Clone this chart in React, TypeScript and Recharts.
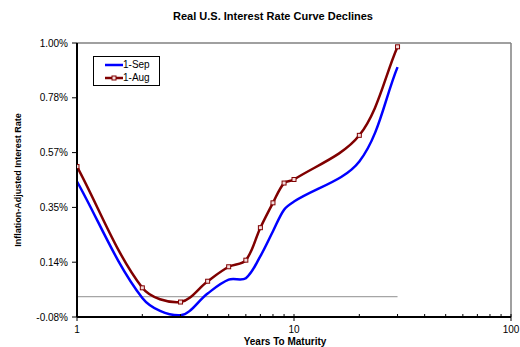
import {
    LineChart,
    Line,
    XAxis,
    YAxis,
    Legend,
    Label,
    ReferenceLine,
} from "recharts";

// years to maturity, log axis
const maturities = [1, 2, 3, 4, 5, 6, 7, 8, 9, 10, 20, 30];
// real yields in percent
const sep1 = [0.454, -0.005, -0.073, 0.013, 0.067, 0.073, 0.16, 0.258, 0.343, 0.375, 0.533, 0.905];
const aug1 = [0.513, 0.035, -0.021, 0.061, 0.118, 0.144, 0.272, 0.37, 0.448, 0.462, 0.636, 0.985];

const yTicks = [-0.08, 0.136, 0.352, 0.568, 0.784, 1.0];
const xTicks = [1, 2, 3, 4, 5, 6, 7, 8, 9, 10, 20, 30, 40, 50, 60, 70, 80, 90, 100];
const xMajor = [1, 10, 100];

const FONT = "'Liberation Sans', Arial, sans-serif";
const SEP_COLOR = "#0000ff";
const AUG_COLOR = "#800000";

const rows = maturities.map((m, i) => ({ m, sep: sep1[i], aug: aug1[i] }));

// smoothed line: bezier through every point, tangents weighted by chord length
const smoothCurve = (context: any) => {
    let xs: number[] = [];
    let ys: number[] = [];
    return {
        areaStart() {},
        areaEnd() {},
        lineStart() {
            xs = [];
            ys = [];
        },
        point(x: number, y: number) {
            xs.push(+x);
            ys.push(+y);
        },
        lineEnd() {
            const n = xs.length;
            if (!n) return;
            const dist = (i: number, j: number) => Math.hypot(xs[j] - xs[i], ys[j] - ys[i]);
            context.moveTo(xs[0], ys[0]);
            for (let i = 0; i < n - 1; i++) {
                const a = Math.max(i - 1, 0);
                const b = Math.min(i + 2, n - 1);
                const dPrev = dist(a, i);
                const dCur = dist(i, i + 1);
                const dNext = dist(i + 1, b);
                const f1 = dCur / (dPrev + dCur || 1) / 3;
                const f2 = dCur / (dCur + dNext || 1) / 3;
                context.bezierCurveTo(
                    xs[i] + (xs[i + 1] - xs[a]) * f1,
                    ys[i] + (ys[i + 1] - ys[a]) * f1,
                    xs[i + 1] - (xs[b] - xs[i]) * f2,
                    ys[i + 1] - (ys[b] - ys[i]) * f2,
                    xs[i + 1],
                    ys[i + 1]
                );
            }
        },
    };
};

const XTick = (props: any) => {
    const { x, y, payload } = props;
    const major = xMajor.includes(payload.value);
    return (
        <g>
            <line x1={x} x2={x} y1={y - 3} y2={major ? y + 4 : y} stroke="#000" strokeWidth={1} />
            {major && (
                <text x={x} y={y + 16} textAnchor="middle" fontSize={10} fontFamily={FONT} fill="#000">
                    {payload.value}
                </text>
            )}
        </g>
    );
};

const AugDot = (props: any) => {
    const { cx, cy } = props;
    if (cx == null || cy == null) return null;
    return <rect x={cx - 2} y={cy - 2} width={4} height={4} fill="#f4dcdc" stroke={AUG_COLOR} strokeWidth={1} />;
};

const LegendBox = () => (
    <div
        style={{
            border: "1px solid #000",
            background: "#fff",
            width: 65,
            padding: "1px 0 1px 0",
            fontFamily: FONT,
            fontSize: 10,
            lineHeight: "13px",
        }}
    >
        {[
            { name: "1-Sep", color: SEP_COLOR },
            { name: "1-Aug", color: AUG_COLOR },
        ].map((s) => (
            <div key={s.name} style={{ display: "flex", alignItems: "center" }}>
                <svg width={29} height={13}>
                    <line x1={11} x2={29} y1={7} y2={7} stroke={s.color} strokeWidth={2.5} />
                    {s.name === "1-Aug" ? (
                        <rect x={18} y={5} width={4} height={4} fill="#f4dcdc" stroke={s.color} strokeWidth={1} />
                    ) : (
                        <rect x={19} y={6} width={2} height={2} fill={s.color} />
                    )}
                </svg>
                <span>{s.name}</span>
            </div>
        ))}
    </div>
);

export default function App() {
    return (
        <div style={{ position: "absolute", left: 0, top: 0, width: 520, height: 347, background: "#fff" }}>
            <div
                style={{
                    position: "absolute",
                    left: 26,
                    width: 494,
                    top: 10,
                    textAlign: "center",
                    fontFamily: FONT,
                    fontWeight: "bold",
                    fontSize: 11,
                    color: "#000",
                }}
            >
                Real U.S. Interest Rate Curve Declines
            </div>
            <LineChart
                width={520}
                height={347}
                data={rows}
                margin={{ top: 43, right: 9, left: 0, bottom: 0 }}
            >
                <XAxis
                    dataKey="m"
                    type="number"
                    scale="log"
                    domain={[1, 100]}
                    ticks={xTicks}
                    interval={0}
                    height={30}
                    tickSize={0}
                    tickMargin={0}
                    tickLine={false}
                    tick={<XTick />}
                    axisLine={{ stroke: "#000", strokeWidth: 2 }}
                    allowDataOverflow
                >
                    <Label
                        content={() => (
                            <text x={285} y={345} textAnchor="middle" fontSize={10} fontWeight="bold" fontFamily={FONT} fill="#000">
                                Years To Maturity
                            </text>
                        )}
                    />
                </XAxis>
                <YAxis
                    type="number"
                    domain={[-0.08, 1.0]}
                    ticks={yTicks}
                    interval={0}
                    width={77}
                    tickSize={5}
                    tickMargin={4}
                    tickFormatter={(v: number) => `${v.toFixed(2)}%`}
                    tick={{ fontSize: 10, fontFamily: FONT, fill: "#000" }}
                    tickLine={{ stroke: "#000" }}
                    axisLine={{ stroke: "#000", strokeWidth: 2 }}
                >
                    <Label
                        content={() => (
                            <text
                                x={21}
                                y={180}
                                transform="rotate(-90 21 180)"
                                textAnchor="middle"
                                fontSize={9}
                                fontWeight="bold"
                                fontFamily={FONT}
                                fill="#000"
                            >
                                Inflation-Adjusted Interest Rate
                            </text>
                        )}
                    />
                </YAxis>
                <ReferenceLine y={1.0} stroke="#808080" strokeWidth={1.5} />
                <ReferenceLine x={100} stroke="#808080" strokeWidth={1.5} />
                <ReferenceLine
                    segment={[
                        { x: 1, y: 0 },
                        { x: 30, y: 0 },
                    ]}
                    stroke="#909090"
                    strokeWidth={1}
                />
                <Legend
                    layout="vertical"
                    align="center"
                    verticalAlign="middle"
                    wrapperStyle={{ left: 93, top: 56, width: 67 }}
                    content={<LegendBox />}
                />
                <Line
                    type={smoothCurve as any}
                    dataKey="sep"
                    name="1-Sep"
                    stroke={SEP_COLOR}
                    strokeWidth={2.5}
                    dot={false}
                    activeDot={false}
                    isAnimationActive={false}
                />
                <Line
                    type={smoothCurve as any}
                    dataKey="aug"
                    name="1-Aug"
                    stroke={AUG_COLOR}
                    strokeWidth={2.5}
                    dot={<AugDot />}
                    activeDot={false}
                    isAnimationActive={false}
                />
            </LineChart>
        </div>
    );
}
